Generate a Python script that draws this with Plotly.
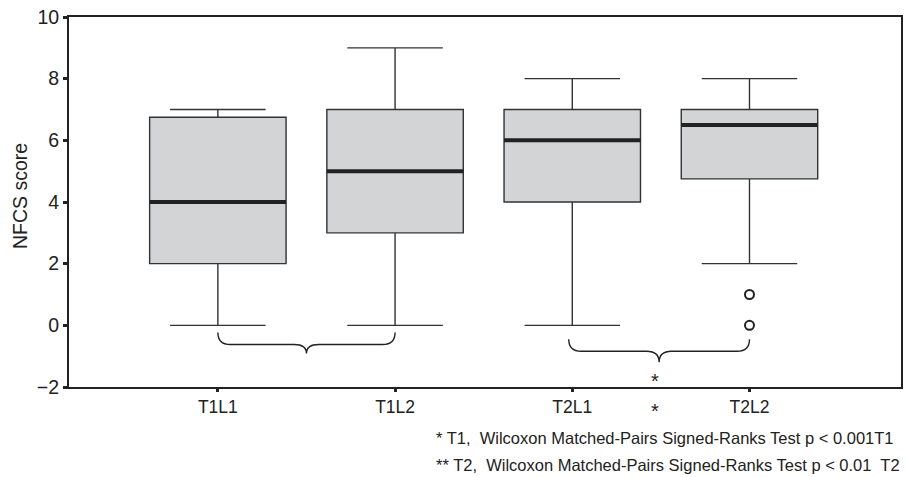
import plotly.graph_objects as go

# ---- data ----
categories = ["T1L1", "T1L2", "T2L1", "T2L2"]
lower_whisker = [0, 0, 0, 2]
q1_values = [2, 3, 4, 4.75]
median_values = [4, 5, 6, 6.5]
q3_values = [6.75, 7, 7, 7]
upper_whisker = [7, 9, 8, 8]
outlier_category = [3, 3]
outlier_values = [1, 0]
y_ticks = [-2, 0, 2, 4, 6, 8, 10]
footnotes = [
    "* T1,  Wilcoxon Matched-Pairs Signed-Ranks Test p < 0.001T1",
    "** T2,  Wilcoxon Matched-Pairs Signed-Ranks Test p < 0.01  T2",
]

FONT = "Liberation Sans, Arial, sans-serif"
DARK = "#222222"
BOX_W = 0.77
pos = list(range(len(categories)))

fig = go.Figure()
fig.add_trace(go.Box(
    x=pos, q1=q1_values, median=median_values, q3=q3_values,
    lowerfence=lower_whisker, upperfence=upper_whisker,
    boxpoints=False, width=BOX_W, whiskerwidth=0.7,
    fillcolor="#d3d4d6", line=dict(color="#333333", width=1.4),
    showlegend=False, hoverinfo="skip",
))
# thick median bars
for i, m in zip(pos, median_values):
    fig.add_trace(go.Scatter(
        x=[i - BOX_W / 2, i + BOX_W / 2], y=[m, m], mode="lines",
        line=dict(color=DARK, width=4), showlegend=False, hoverinfo="skip",
    ))
# outliers
fig.add_trace(go.Scatter(
    x=outlier_category, y=outlier_values, mode="markers",
    marker=dict(symbol="circle-open", size=9, color=DARK, line=dict(width=2)),
    showlegend=False, hoverinfo="skip",
))


def brace(x0, x1, ytop, ymid, ytip, rx=0.07):
    xm = (x0 + x1) / 2
    return (f"M {x0},{ytop} Q {x0},{ymid} {x0+rx},{ymid} "
            f"L {xm-rx},{ymid} Q {xm},{ymid} {xm},{ytip} "
            f"Q {xm},{ymid} {xm+rx},{ymid} "
            f"L {x1-rx},{ymid} Q {x1},{ymid} {x1},{ytop}")


fig.add_shape(type="path", path=brace(0, 1, -0.23, -0.62, -0.91),
              line=dict(color=DARK, width=1.4), xref="x", yref="y")
fig.add_shape(type="path", path=brace(1.98, 3, -0.45, -0.84, -1.2),
              line=dict(color=DARK, width=1.4), xref="x", yref="y")

annotations = [
    dict(x=2.465, y=-1.8, xref="x", yref="y", text="*", showarrow=False,
         xanchor="center", yanchor="middle",
         font=dict(size=20, color=DARK, family=FONT)),
    dict(x=2.465, y=-0.065, xref="x", yref="paper", text="*", showarrow=False,
         xanchor="center", yanchor="middle",
         font=dict(size=20, color=DARK, family=FONT)),
    dict(x=-0.059, y=0.516, xref="paper", yref="paper", text="NFCS score",
         textangle=-90, showarrow=False, xanchor="center", yanchor="middle",
         font=dict(size=19.5, color=DARK, family=FONT)),
]
for k, t in enumerate(footnotes):
    annotations.append(dict(
        x=0.4385, y=-0.138 - 0.073 * k, xref="paper", yref="paper",
        xanchor="left", yanchor="middle", text=t, showarrow=False,
        font=dict(size=16.5, color=DARK, family=FONT)))

fig.update_layout(
    width=906, height=477,
    margin=dict(l=69, r=3, t=17, b=90),
    paper_bgcolor="white", plot_bgcolor="white",
    font=dict(family=FONT, size=16, color=DARK),
    annotations=annotations,
    xaxis=dict(range=[-0.84, 3.855], tickvals=pos, ticktext=categories,
               showgrid=False, zeroline=False, showline=True, mirror=True,
               linecolor=DARK, linewidth=2, ticks="outside", ticklen=3,
               tickwidth=3, tickcolor=DARK, tickfont=dict(size=17.5)),
    yaxis=dict(range=[-2, 10], tickvals=y_ticks, showgrid=False,
               zeroline=False, showline=True, mirror=True, linecolor=DARK,
               linewidth=2, ticks="outside", ticklen=4, tickwidth=3,
               tickcolor=DARK, tickfont=dict(size=19.5)),
)

fig.write_html("out.html",
               config={"displayModeBar": False},
               post_script="document.body.style.margin='0';"
                           "document.body.style.overflow='hidden';")
